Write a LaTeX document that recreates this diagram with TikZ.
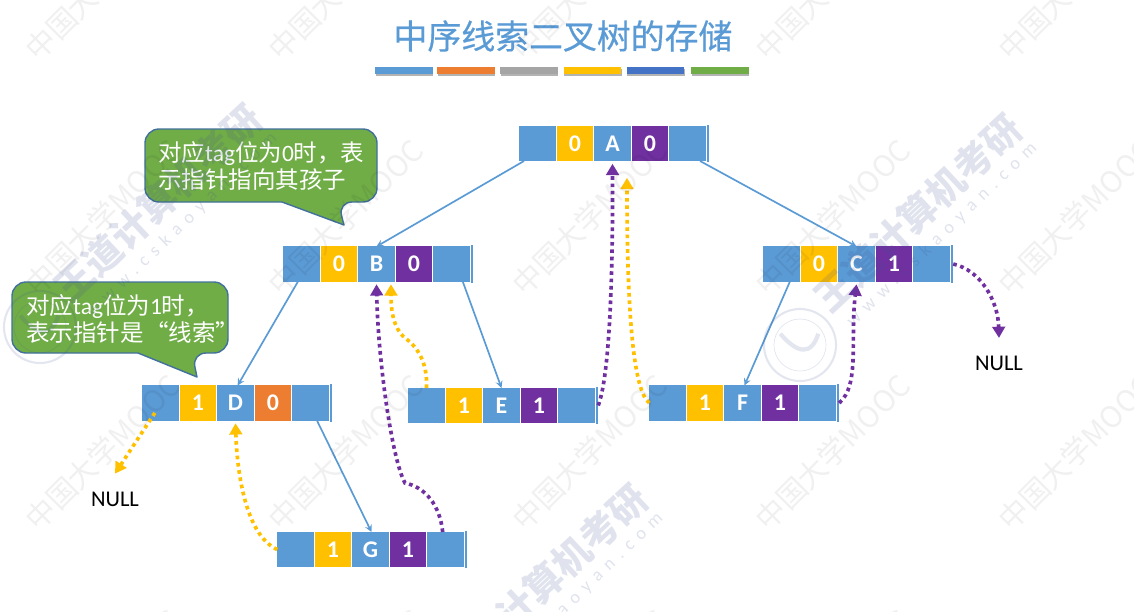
\documentclass[tikz,border=0pt]{standalone}
\usepackage{fontspec}
\setmainfont{Carlito}
\newfontfamily\cjk{Noto Sans CJK SC}
\newfontfamily\cjktitle[FakeBold=0.5]{Noto Sans CJK SC}
\newfontfamily\sitefont[LetterSpace=40]{Carlito}
\usetikzlibrary{arrows.meta,shadows}
\definecolor{cellblue}{HTML}{5B9BD5}
\definecolor{tagyellow}{HTML}{FFC000}
\definecolor{tagpurple}{HTML}{7030A0}
\definecolor{tagorange}{HTML}{ED7D31}
\definecolor{bargray}{HTML}{A5A5A5}
\definecolor{bardeep}{HTML}{4472C4}
\definecolor{noteline}{HTML}{41719C}
\definecolor{notegreen}{HTML}{70AD47}
\definecolor{brandink}{HTML}{3F4F8F}
\newcommand{\zh}[1]{{\cjk #1}}
\tikzset{
  cellbox/.style={rectangle,minimum width=0.91cm,minimum height=0.875cm,inner sep=0pt,outer sep=0pt,
    text=white,font=\fontsize{17}{20}\selectfont\bfseries},
  capbar/.style={rectangle,fill=cellblue,minimum width=1pt,minimum height=0.925cm,inner sep=0pt,outer sep=0pt},
  titlebar/.style={rectangle,minimum width=1.44cm,minimum height=0.17cm,inner sep=0pt,
    drop shadow={shadow xshift=0.4pt,shadow yshift=-1.5pt,opacity=0.6}},
  notebox/.style={draw=noteline,fill=notegreen,line width=1pt,line join=round},
  notetext/.style={anchor=west,align=left,inner sep=0pt,text=white,font=\fontsize{16.7}{19.2}\selectfont},
  nulltext/.style={inner sep=0pt,font=\fontsize{16}{18}\selectfont},
  childline/.style={->,draw=cellblue,line width=1.2pt},
  yellowthread/.style={-{Triangle[length=8pt,width=9pt]},draw=tagyellow,line width=2.6pt,dash pattern=on 2.6pt off 2.6pt},
  purplethread/.style={-{Triangle[length=8pt,width=9pt]},draw=tagpurple,line width=2.6pt,dash pattern=on 2.6pt off 2.6pt},
  moocmark/.style={anchor=west,rotate=45,inner sep=0pt,text=black,text opacity=0.06,font=\fontsize{21}{24}\selectfont\cjk},
  brandmark/.style={rotate=43,inner sep=0pt,text=brandink,text opacity=0.16,font=\fontsize{27}{30}\selectfont\cjk\bfseries},
  sitemark/.style={rotate=44,inner sep=0pt,text=brandink,text opacity=0.16,font=\fontsize{13}{15}\selectfont\sitefont},
  sealmark/.style={circle,draw=brandink,draw opacity=0.14,inner sep=0pt},
}
% name, left, middle of the row, left tag, letter, right tag, left tag colour, right tag colour
\newcommand{\threadrecord}[8]{
  \node[cellbox,fill=cellblue] (#1l) at ({#2+18.5},#3) {};
  \node[cellbox,fill=#7] (#1ltag) at ({#2+56},#3) {#4};
  \node[cellbox,fill=cellblue] (#1val) at ({#2+93.5},#3) {#5};
  \node[cellbox,fill=#8] (#1rtag) at ({#2+131},#3) {#6};
  \node[cellbox,fill=cellblue] (#1r) at ({#2+168.5},#3) {};
  \node[capbar] (#1cap) at ({#2+189},#3) {};
}
\begin{document}
\begin{tikzpicture}[>=stealth,x=0.025cm,y=-0.025cm]
\useasboundingbox (0,0) rectangle (1134,612);

\node[inner sep=0pt,text=cellblue,font=\fontsize{24.1}{28}\selectfont\cjktitle] (title) at (563,36) {中序线索二叉树的存储};
\node[titlebar,fill=cellblue] (bar1) at (404,70.5) {};
\node[titlebar,fill=tagorange] (bar2) at (466,70.5) {};
\node[titlebar,fill=bargray] (bar3) at (529,70.5) {};
\node[titlebar,fill=tagyellow] (bar4) at (592.5,70.5) {};
\node[titlebar,fill=bardeep] (bar5) at (655.5,70.5) {};
\node[titlebar,fill=notegreen] (bar6) at (720,70.5) {};

\threadrecord{a}{519}{143.5}{0}{A}{0}{tagyellow}{tagpurple}
\threadrecord{b}{283}{264}{0}{B}{0}{tagyellow}{tagpurple}
\threadrecord{c}{763}{264}{0}{C}{1}{tagyellow}{tagpurple}
\threadrecord{d}{142}{403}{1}{D}{0}{tagyellow}{tagorange}
\threadrecord{e}{408}{405.5}{1}{E}{1}{tagyellow}{tagpurple}
\threadrecord{f}{649}{403}{1}{F}{1}{tagyellow}{tagpurple}
\threadrecord{g}{277}{549.5}{1}{G}{1}{tagyellow}{tagpurple}

\node[nulltext] (nulld) at (115,499.5) {NULL};
\node[nulltext] (nullc) at (999,363.5) {NULL};

% child pointers
\draw[childline] ([xshift=-9.6pt]al.south) -- (bval.north);
\draw[childline] ([xshift=8.9pt]ar.south) -- (cval.north);
\draw[childline] ([xshift=-2.5pt]bl.south) -- ([xshift=1.5pt]dval.north);
\draw[childline] ([xshift=8pt]br.south) -- (eval.north);
\draw[childline] ([xshift=6pt]cl.south) -- ([xshift=1.4pt]fval.north);
\draw[childline] ([xshift=4.6pt]dr.south) -- ([xshift=0.7pt]gval.north);

% threads
\draw[yellowthread] (gl.west) .. controls (245,535) and (237,470) .. ([yshift=-2pt]dval.south);
\draw[purplethread] ([xshift=-2pt]gr.north) .. controls (440,505) and (425,487) .. (405,483) .. controls (392,460) and (378,360) .. ([yshift=-2pt]bval.south);
\draw[yellowthread] ([shift={(-4pt,-7pt)}]dl.center) -- ([yshift=13pt]nulld.north);
\draw[yellowthread] (el.north) .. controls (428,360) and (415,345) .. (405,338) .. controls (393,328) and (391,310) .. ([xshift=10.3pt,yshift=-2pt]bval.south);
\draw[purplethread] ([xshift=2.5pt]er.east) .. controls (608,380) and (613,300) .. ([yshift=-2pt]aval.south);
\draw[yellowthread] (fl.west) .. controls (632,390) and (627,300) .. ([xshift=10.3pt,yshift=-12pt]aval.south);
\draw[purplethread] ([xshift=2.5pt]fr.east) .. controls (860,385) and (850,340) .. ([yshift=-2pt]cval.south);
\draw[purplethread] ([xshift=2.5pt]cr.east) .. controls (980,270) and (998,300) .. ([yshift=12.8pt]nullc.north);

% callouts
\draw[notebox] (145,165) [rounded corners=10pt] -- (145,129) -- (377,129) -- (377,202) -- (338,202) [sharp corners] -- (344,225) -- (282,202) -- (282,202) [rounded corners=10pt] -- (145,202) -- cycle;
\node[notetext] (notezero) at (158,166.5) {\zh{对应}tag\zh{位为}0\zh{时，表}\\\zh{示指针指向其孩子}};
\draw[notebox] (12,318) [rounded corners=10pt] -- (12,282) -- (228,282) -- (228,353) -- (192,353) [sharp corners] -- (197,377) -- (138,353) -- (138,353) [rounded corners=10pt] -- (12,353) -- cycle;
\node[notetext] (noteone) at (26,318.5) {\zh{对应}tag\zh{位为}1\zh{时，}\\\zh{表示指针是\hspace{1pt}“线索”}};

% watermarks
\begin{scope}
\clip (0,0) rectangle (1134,612);
\foreach \col in {30,273,517,760,1003}
  \foreach \row in {55,290,525,760}
    \node[moocmark] (mooc\col\row) at (\col,\row) {中国大学MOOC};
\foreach \bx/\by in {158/203,918/213,544/583} {
  \node[brandmark] (brand\bx) at (\bx,\by) {王道计算机考研};
  \node[sitemark] (site\bx) at ({\bx+24},{\by+22}) {www.cskaoyan.com};
}
\foreach \sx/\sy in {40/327,800/345} {
  \node[sealmark,line width=1.5pt,minimum size=1.8cm] (sealout\sx) at (\sx,\sy) {};
  \node[sealmark,line width=0.5pt,minimum size=1.3cm] (sealin\sx) at (\sx,\sy) {};
  \draw[brandink,draw opacity=0.14,line width=3pt] ([shift={(-14pt,8pt)}]sealin\sx.center) .. controls ([shift={(-2pt,-6pt)}]sealin\sx.center) and ([shift={(8pt,-8pt)}]sealin\sx.center) .. ([shift={(13pt,8pt)}]sealin\sx.center);
}
\end{scope}
\end{tikzpicture}
\end{document}
